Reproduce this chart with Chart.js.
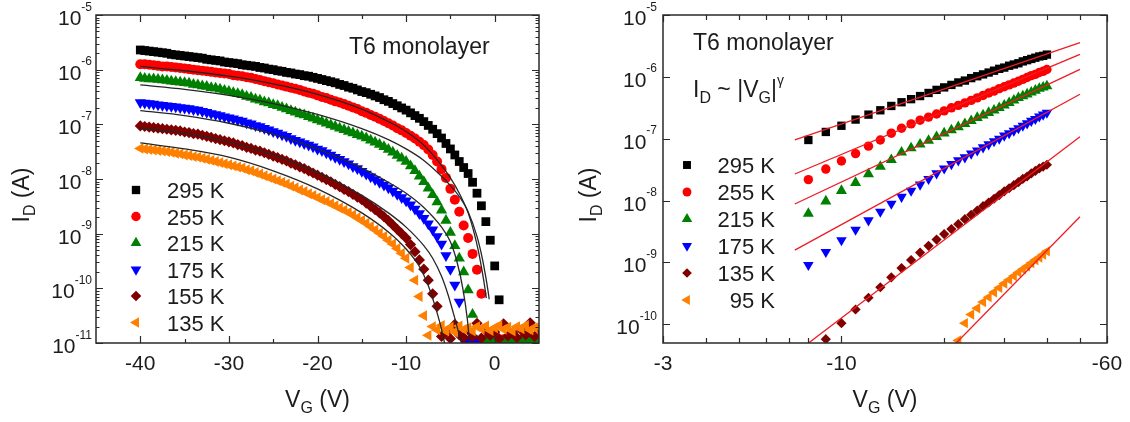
<!DOCTYPE html>
<html>
<head>
<meta charset="utf-8">
<script src="https://cdn.jsdelivr.net/npm/chart.js@4.4.1/dist/chart.umd.min.js"></script>
<style>
  html, body { margin: 0; padding: 0; background: #ffffff; }
  #wrap { position: relative; width: 1130px; height: 422px; overflow: hidden; }
  canvas { position: absolute; top: 0; }
  #left { left: 0; }
  #right { left: 560px; }
</style>
</head>
<body>
<div id="wrap">
  <canvas id="left" width="560" height="422" style="width:560px;height:422px"></canvas>
  <canvas id="right" width="570" height="422" style="width:570px;height:422px"></canvas>
</div>
<script>
// ---------------- LEFT PANEL DATA: I_D vs V_G (log10 of I_D in A), V_G step 0.5 V ----------------
const leftVG = [
  -40,-39.5,-39,-38.5,-38,-37.5,-37,-36.5,-36,-35.5,
  -35,-34.5,-34,-33.5,-33,-32.5,-32,-31.5,-31,-30.5,
  -30,-29.5,-29,-28.5,-28,-27.5,-27,-26.5,-26,-25.5,
  -25,-24.5,-24,-23.5,-23,-22.5,-22,-21.5,-21,-20.5,
  -20,-19.5,-19,-18.5,-18,-17.5,-17,-16.5,-16,-15.5,
  -15,-14.5,-14,-13.5,-13,-12.5,-12,-11.5,-11,-10.5,
  -10,-9.5,-9,-8.5,-8,-7.5,-7,-6.5,-6,-5.5,-5,-4.5,-4,-3.5,-3,-2.5,-2,-1.5,-1,-0.5,0,0.5,1,1.5,2,2.5,3,3.5,4,4.5,5];

const leftLog295K = [
  -5.64,-5.65,-5.66,-5.67,-5.68,-5.69,-5.70,-5.72,-5.73,-5.74,
  -5.75,-5.76,-5.77,-5.78,-5.79,-5.81,-5.82,-5.83,-5.84,-5.86,
  -5.87,-5.88,-5.89,-5.91,-5.92,-5.93,-5.94,-5.96,-5.97,-5.99,
  -6.00,-6.02,-6.03,-6.05,-6.06,-6.08,-6.09,-6.11,-6.12,-6.14,
  -6.16,-6.18,-6.20,-6.22,-6.24,-6.27,-6.29,-6.32,-6.34,-6.37,
  -6.40,-6.42,-6.45,-6.48,-6.51,-6.55,-6.58,-6.62,-6.66,-6.70,
  -6.74,-6.79,-6.84,-6.89,-6.95,-7.02,-7.09,-7.17,-7.25,-7.35,-7.45,-7.56,-7.68,-7.79,-7.90,-8.06,-8.26,-8.49,-8.78,-9.12,-9.59,-10.21,
  null,null,null,null,null,null,null,null,null];

const leftLog255K = [
  -5.90,-5.90,-5.91,-5.92,-5.93,-5.94,-5.94,-5.95,-5.96,-5.97,
  -5.98,-5.99,-6.00,-6.01,-6.02,-6.03,-6.04,-6.05,-6.06,-6.07,
  -6.08,-6.10,-6.11,-6.12,-6.14,-6.15,-6.17,-6.19,-6.21,-6.23,
  -6.25,-6.27,-6.29,-6.31,-6.33,-6.35,-6.37,-6.40,-6.42,-6.44,
  -6.47,-6.50,-6.52,-6.55,-6.58,-6.60,-6.63,-6.66,-6.69,-6.72,
  -6.76,-6.79,-6.83,-6.86,-6.90,-6.94,-6.98,-7.02,-7.07,-7.11,
  -7.16,-7.21,-7.26,-7.32,-7.38,-7.46,-7.56,-7.68,-7.82,-7.98,-8.18,-8.38,-8.60,-8.85,-9.08,-9.37,-9.66,-10.10,
  -10.93,-10.96,-10.91,-10.95,-10.93,-10.97,-10.92,-10.95,-10.94,-10.97,-10.92,-10.95,-10.93];

const leftLog215K = [
  -6.15,-6.16,-6.17,-6.17,-6.18,-6.19,-6.20,-6.21,-6.22,-6.23,
  -6.24,-6.25,-6.27,-6.28,-6.30,-6.31,-6.33,-6.34,-6.36,-6.38,
  -6.40,-6.42,-6.44,-6.46,-6.49,-6.51,-6.54,-6.56,-6.59,-6.61,
  -6.64,-6.66,-6.69,-6.72,-6.75,-6.78,-6.81,-6.83,-6.86,-6.89,
  -6.92,-6.95,-6.98,-7.01,-7.04,-7.07,-7.10,-7.13,-7.16,-7.19,
  -7.22,-7.25,-7.29,-7.33,-7.37,-7.41,-7.46,-7.51,-7.57,-7.62,
  -7.68,-7.76,-7.85,-7.95,-8.05,-8.17,-8.29,-8.42,-8.57,-8.76,-8.98,-9.22,-9.45,-9.70,-10.03,-10.48,
  -10.96,-10.94,-10.97,-10.95,-10.93,-10.96,-10.98,-10.94,-10.96,-10.95,-10.97,-10.93,-10.96,-10.94,-10.97];

const leftLog175K = [
  -6.60,-6.61,-6.62,-6.63,-6.64,-6.65,-6.66,-6.67,-6.68,-6.69,
  -6.70,-6.71,-6.73,-6.74,-6.76,-6.78,-6.80,-6.82,-6.84,-6.86,
  -6.88,-6.90,-6.92,-6.94,-6.97,-6.99,-7.02,-7.04,-7.07,-7.10,
  -7.13,-7.16,-7.19,-7.22,-7.26,-7.29,-7.32,-7.35,-7.38,-7.41,
  -7.45,-7.48,-7.52,-7.56,-7.60,-7.64,-7.68,-7.72,-7.77,-7.81,
  -7.86,-7.91,-7.96,-8.01,-8.06,-8.11,-8.16,-8.22,-8.28,-8.34,
  -8.40,-8.47,-8.55,-8.63,-8.72,-8.82,-8.93,-9.05,-9.19,-9.40,-9.65,-9.94,-10.25,
  -10.96,-10.98,-10.97,-10.99,null,null,null,null,null,null,null,null,null,null,null,null,null,null];

const leftLog155K = [
  -7.03,-7.04,-7.05,-7.06,-7.07,-7.08,-7.09,-7.10,-7.11,-7.12,
  -7.14,-7.15,-7.17,-7.18,-7.20,-7.22,-7.24,-7.26,-7.28,-7.30,
  -7.32,-7.34,-7.37,-7.39,-7.42,-7.44,-7.47,-7.49,-7.52,-7.55,
  -7.58,-7.61,-7.64,-7.67,-7.71,-7.74,-7.78,-7.81,-7.85,-7.89,
  -7.93,-7.97,-8.01,-8.05,-8.10,-8.14,-8.19,-8.23,-8.28,-8.33,
  -8.38,-8.44,-8.50,-8.56,-8.62,-8.69,-8.76,-8.84,-8.92,-9.00,
  -9.08,-9.20,-9.33,-9.48,-9.65,-9.85,-10.10,-10.33,
  -10.88,-10.80,-10.92,-10.66,-10.85,-10.90,-10.76,-10.88,-10.64,-10.91,-10.77,-10.86,-10.80,-10.92,-10.65,-10.87,-10.81,-10.90,-10.76,-10.85,-10.63,-10.88,-10.75];

const leftLog135K = [
  -7.44,-7.45,-7.46,-7.47,-7.48,-7.49,-7.50,-7.51,-7.53,-7.54,
  -7.56,-7.57,-7.59,-7.60,-7.62,-7.64,-7.66,-7.68,-7.70,-7.72,
  -7.74,-7.76,-7.78,-7.80,-7.83,-7.85,-7.88,-7.91,-7.94,-7.97,
  -8.00,-8.03,-8.06,-8.09,-8.13,-8.16,-8.20,-8.23,-8.27,-8.30,
  -8.34,-8.38,-8.41,-8.45,-8.49,-8.53,-8.57,-8.61,-8.66,-8.71,
  -8.76,-8.81,-8.87,-8.93,-8.99,-9.05,-9.12,-9.19,-9.27,-9.36,
  -9.45,-9.62,-9.85,-10.15,-10.50,-10.86,
  -10.70,-10.76,-10.68,-10.78,-10.71,-10.80,-10.69,-10.75,-10.72,-10.78,-10.70,-10.74,-10.69,-10.77,-10.72,-10.68,-10.75,-10.71,-10.78,-10.70,-10.74,-10.68,-10.76,-10.72,-10.70];

// fitted curves (black lines), V_G and log10(I_D)
const fitA_VG  = [-40,-35,-30,-25,-20,-15,-12,-10,-8,-6,-5,-4,-3,-2.3,-1.8,-1.4,-1.1,-0.95];
const fitA_log = [-5.94,-6.02,-6.12,-6.26,-6.45,-6.72,-6.95,-7.13,-7.38,-7.75,-7.98,-8.26,-8.62,-9.0,-9.35,-9.7,-10.0,-10.18];
const fitB_VG  = [-40,-35,-30,-25,-20,-15,-12,-10,-8,-6,-5,-4,-3,-2,-1.4,-1,-0.75,-0.62];
const fitB_log = [-6.28,-6.36,-6.47,-6.62,-6.82,-7.08,-7.28,-7.45,-7.66,-7.95,-8.12,-8.32,-8.60,-9.05,-9.45,-9.8,-10.05,-10.2];
const fitC_VG  = [-40,-35,-30,-25,-20,-15,-12,-10,-8,-6,-5,-4.2,-3.6,-3.1,-2.8];
const fitC_log = [-6.75,-6.84,-6.98,-7.18,-7.45,-7.80,-8.06,-8.26,-8.52,-8.88,-9.15,-9.55,-10.0,-10.55,-11.05];
const fitD_VG  = [-40,-35,-30,-25,-20,-15,-12,-10,-8,-7,-6,-5.3,-4.5,-4,-3.6];
const fitD_log = [-7.07,-7.16,-7.32,-7.56,-7.88,-8.30,-8.62,-8.88,-9.22,-9.45,-9.78,-10.1,-10.55,-10.85,-11.05];
const fitE_VG  = [-40,-35,-30,-25,-20,-15,-12,-10,-8.5,-7.5,-6.5,-6,-5.6];
const fitE_log = [-7.34,-7.45,-7.60,-7.85,-8.18,-8.62,-8.97,-9.28,-9.6,-9.95,-10.45,-10.75,-11.05];

const leftXTicks = [-40, -30, -20, -10, 0];
const leftXTickLabels = ['-40', '-30', '-20', '-10', '0'];
const leftXMinor = [-35, -25, -15, -5];
const leftYExponents = [-11, -10, -9, -8, -7, -6, -5];

// ---------------- RIGHT PANEL DATA: I_D vs |V_G| (log-log) ----------------
const rightAbsVG = [8,9,10,11,12,13,14,15,16,17,18,19,20,21,22,23,24,25,26,27,28,29,30,31,32,33,34,35,36,37,38,39,40];
const rightLog295K = [-7.02,-6.89,-6.79,-6.69,-6.61,-6.54,-6.47,-6.41,-6.36,-6.31,-6.26,-6.21,-6.17,-6.13,-6.09,-6.06,-6.02,-5.99,-5.96,-5.93,-5.90,-5.87,-5.85,-5.82,-5.80,-5.78,-5.75,-5.73,-5.71,-5.69,-5.67,-5.66,-5.64];
const rightLog255K = [-7.66,-7.49,-7.36,-7.24,-7.12,-7.02,-6.91,-6.83,-6.76,-6.70,-6.65,-6.60,-6.55,-6.50,-6.46,-6.42,-6.38,-6.34,-6.30,-6.26,-6.23,-6.19,-6.16,-6.13,-6.10,-6.07,-6.04,-6.01,-5.98,-5.96,-5.93,-5.91,-5.88];
const rightLog215K = [-8.21,-8.01,-7.84,-7.71,-7.57,-7.45,-7.34,-7.22,-7.15,-7.09,-7.03,-6.97,-6.91,-6.86,-6.81,-6.76,-6.71,-6.66,-6.62,-6.58,-6.54,-6.50,-6.46,-6.42,-6.38,-6.34,-6.31,-6.28,-6.25,-6.22,-6.19,-6.17,-6.15];
const rightLog175K = [-9.04,-8.83,-8.64,-8.47,-8.32,-8.18,-8.05,-7.94,-7.84,-7.74,-7.65,-7.56,-7.48,-7.41,-7.35,-7.30,-7.24,-7.19,-7.14,-7.09,-7.04,-7.00,-6.95,-6.91,-6.87,-6.83,-6.79,-6.75,-6.71,-6.68,-6.64,-6.61,-6.58];
const rightLog135K = [null,-10.24,-9.98,-9.76,-9.57,-9.40,-9.24,-9.09,-8.96,-8.84,-8.73,-8.63,-8.54,-8.46,-8.38,-8.30,-8.23,-8.16,-8.09,-8.03,-7.97,-7.91,-7.85,-7.80,-7.75,-7.70,-7.65,-7.61,-7.56,-7.52,-7.48,-7.45,-7.42];
const rightLog95K  = [null,null,null,null,null,null,null,null,null,null,null,null,null,null,-10.26,-9.98,-9.84,-9.74,-9.64,-9.56,-9.48,-9.41,-9.34,-9.28,-9.22,-9.16,-9.11,-9.06,-9.01,-8.96,-8.92,-8.87,-8.82];

// power-law fits (red lines): |V_G| end points and log10(I_D)
const powFitAbsVG = [7.3, 50];
const powFit295K = [-7.02, -5.446];
const powFit255K = [-7.57, -5.635];
const powFit215K = [-8.055, -5.878];
const powFit175K = [-8.80, -6.28];
const powFit135K = [-10.47, -6.967];
const powFit95K_AbsVG = [20, 50];
const powFit95K = [-10.5, -8.26];

const rightXTicks = [3, 10, 60];
const rightXTickLabels = ['-3', '-10', '-60'];
const rightXMinor = [4, 5, 6, 7, 8, 9, 20, 30, 40, 50];
const rightYExponents = [-10, -9, -8, -7, -6, -5];

// ---------------- helpers ----------------
const FONT = '"Liberation Sans", Arial, Helvetica, sans-serif';
const INK = '#1c1c1c';

function toPoints(xs, logs) {
  const out = [];
  xs.forEach((x, i) => {
    const l = logs[i];
    if (l !== null && l !== undefined) out.push({ x: x, y: Math.pow(10, l) });
  });
  return out;
}

function drawMarker(ctx, style, rot, r, x, y) {
  ctx.beginPath();
  const rad = rot * Math.PI / 180;
  if (style === 'rect') {
    const s = Math.SQRT1_2 * r;
    ctx.rect(x - s, y - s, 2 * s, 2 * s);
  } else if (style === 'circle') {
    ctx.arc(x, y, r, 0, Math.PI * 2);
  } else if (style === 'triangle') {
    let a = rad;
    ctx.moveTo(x + Math.sin(a) * r, y - Math.cos(a) * r);
    a += 2 * Math.PI / 3;
    ctx.lineTo(x + Math.sin(a) * r, y - Math.cos(a) * r);
    a += 2 * Math.PI / 3;
    ctx.lineTo(x + Math.sin(a) * r, y - Math.cos(a) * r);
    ctx.closePath();
  } else if (style === 'rectRot') {
    ctx.moveTo(x, y - r); ctx.lineTo(x + r, y); ctx.lineTo(x, y + r); ctx.lineTo(x - r, y);
    ctx.closePath();
  }
  ctx.fill();
}

function textRun(ctx, parts, x, y) {
  let cx = x;
  parts.forEach(p => {
    ctx.font = p[1] + 'px ' + FONT;
    ctx.fillText(p[0], cx, y + p[2]);
    cx += ctx.measureText(p[0]).width;
  });
  return cx;
}
function runWidth(ctx, parts) {
  let w = 0;
  parts.forEach(p => { ctx.font = p[1] + 'px ' + FONT; w += ctx.measureText(p[0]).width; });
  return w;
}

function panelPlugin(spec) {
  return {
    id: 'panel_' + spec.name,
    afterDraw(chart) {
      const ctx = chart.ctx, a = chart.chartArea;
      const xs = chart.scales.x, ys = chart.scales.y;
      ctx.save();
      ctx.strokeStyle = '#2a2a2a';
      ctx.lineWidth = 1.5;
      ctx.strokeRect(a.left, a.top, a.right - a.left, a.bottom - a.top);
      ctx.lineWidth = 1.2;
      ctx.beginPath();
      const tickX = (v, len) => {
        const p = Math.round(xs.getPixelForValue(v)) + 0.5;
        ctx.moveTo(p, a.bottom); ctx.lineTo(p, a.bottom - len);
        ctx.moveTo(p, a.top); ctx.lineTo(p, a.top + len);
      };
      const tickY = (v, len) => {
        const p = Math.round(ys.getPixelForValue(v)) + 0.5;
        ctx.moveTo(a.left, p); ctx.lineTo(a.left + len, p);
        ctx.moveTo(a.right, p); ctx.lineTo(a.right - len, p);
      };
      spec.xTicks.forEach(v => tickX(v, 7));
      spec.xMinor.forEach(v => tickX(v, spec.xMinorLen));
      spec.yExp.forEach(e => tickY(Math.pow(10, e), 7));
      if (spec.yMinor) {
        spec.yExp.forEach(e => {
          for (let m = 2; m <= 9; m++) {
            const v = m * Math.pow(10, e);
            if (v < ys.max) tickY(v, 3.5);
          }
        });
      }
      ctx.stroke();

      ctx.fillStyle = INK;
      ctx.textBaseline = 'alphabetic';
      ctx.textAlign = 'center';
      ctx.font = '21px ' + FONT;
      spec.xTicks.forEach((v, i) => ctx.fillText(spec.xLabels[i], xs.getPixelForValue(v), a.bottom + 27));
      ctx.textAlign = 'left';
      spec.yExp.forEach(e => {
        const y = ys.getPixelForValue(Math.pow(10, e));
        const parts = [['10', 21, 10], [String(e), 12, -4.5]];
        const w = runWidth(ctx, parts);
        textRun(ctx, parts, a.left - spec.yLabelGap - w, y);
      });
      const xt = [['V', 23, 0], ['G', 16, 6], [' (V)', 23, 0]];
      const xw = runWidth(ctx, xt);
      textRun(ctx, xt, (a.left + a.right) / 2 - xw / 2, 407);
      const yt = [['I', 23, 0], ['D', 16, 6], [' (A)', 23, 0]];
      const yw = runWidth(ctx, yt);
      ctx.save();
      ctx.translate(spec.yTitleX, 195);
      ctx.rotate(-Math.PI / 2);
      textRun(ctx, yt, -yw / 2, 0);
      ctx.restore();
      spec.notes.forEach(n => textRun(ctx, n.parts, n.x, n.y));
      const L = spec.legend;
      spec.series.forEach((s, i) => {
        const y = L.y0 + i * L.dy;
        ctx.fillStyle = s.color;
        drawMarker(ctx, s.style, s.rot, s.r * L.scale, L.markerX, y);
        ctx.fillStyle = INK;
        ctx.font = '22px ' + FONT;
        ctx.textAlign = L.align;
        ctx.fillText(s.label, L.textX, y + 8);
      });
      ctx.restore();
    }
  };
}

function buildDatasets(xs, series, fits, fitColor) {
  const ds = [];
  fits.forEach(f => ds.push({
    data: toPoints(f.x, f.logs),
    showLine: true, pointRadius: 0, borderColor: fitColor, borderWidth: 1.3,
    fill: false, cubicInterpolationMode: 'monotone', order: 0, clip: 0
  }));
  series.forEach((s, i) => ds.push({
    label: s.label,
    data: toPoints(xs, s.logs),
    showLine: false,
    pointStyle: s.style, pointRotation: s.rot, pointRadius: s.r,
    pointBackgroundColor: s.color, backgroundColor: s.color,
    pointBorderWidth: 0, borderWidth: 0,
    order: series.length - i, clip: 0
  }));
  return ds;
}

// ---------------- LEFT CHART ----------------
const leftSeries = [
  { label: '295 K', logs: leftLog295K, color: '#000000', style: 'rect',     rot: 0,   r: 6.2 },
  { label: '255 K', logs: leftLog255K, color: '#ff0000', style: 'circle',   rot: 0,   r: 5.0 },
  { label: '215 K', logs: leftLog215K, color: '#008000', style: 'triangle', rot: 0,   r: 6.5 },
  { label: '175 K', logs: leftLog175K, color: '#0000ff', style: 'triangle', rot: 180, r: 6.5 },
  { label: '155 K', logs: leftLog155K, color: '#800000', style: 'rectRot',  rot: 0,   r: 5.6 },
  { label: '135 K', logs: leftLog135K, color: '#ff8000', style: 'triangle', rot: 270, r: 6.3 }
];
const leftFits = [
  { x: fitA_VG, logs: fitA_log }, { x: fitB_VG, logs: fitB_log }, { x: fitC_VG, logs: fitC_log },
  { x: fitD_VG, logs: fitD_log }, { x: fitE_VG, logs: fitE_log }
];

new Chart(document.getElementById('left'), {
  type: 'scatter',
  data: { datasets: buildDatasets(leftVG, leftSeries, leftFits, '#262626') },
  options: {
    responsive: false, animation: false, devicePixelRatio: 1, events: [],
    layout: { padding: { left: 96, top: 15, right: 21, bottom: 79 } },
    plugins: { legend: { display: false }, tooltip: { enabled: false } },
    scales: {
      x: { type: 'linear', min: -45, max: 5, display: false },
      y: { type: 'logarithmic', min: 1e-11, max: 1e-5, display: false }
    }
  },
  plugins: [panelPlugin({
    name: 'left', xTicks: leftXTicks, xLabels: leftXTickLabels, xMinor: leftXMinor, xMinorLen: 4,
    yExp: leftYExponents, yMinor: true, yLabelGap: 4, yTitleX: 29,
    series: leftSeries,
    legend: { markerX: 136, textX: 167, align: 'left', y0: 190, dy: 26.5, scale: 0.95 },
    notes: [ { x: 349, y: 53.5, parts: [['T6 monolayer', 23, 0]] } ]
  })]
});

// ---------------- RIGHT CHART ----------------
const rightSeries = [
  { label: '295 K', logs: rightLog295K, color: '#000000', style: 'rect',     rot: 0,   r: 5.9 },
  { label: '255 K', logs: rightLog255K, color: '#ff0000', style: 'circle',   rot: 0,   r: 4.7 },
  { label: '215 K', logs: rightLog215K, color: '#008000', style: 'triangle', rot: 0,   r: 6.4 },
  { label: '175 K', logs: rightLog175K, color: '#0000ff', style: 'triangle', rot: 180, r: 6.1 },
  { label: '135 K', logs: rightLog135K, color: '#800000', style: 'rectRot',  rot: 0,   r: 5.1 },
  { label: '95 K',  logs: rightLog95K,  color: '#ff8000', style: 'triangle', rot: 270, r: 6.0 }
];
const rightFits = [
  { x: powFitAbsVG, logs: powFit295K }, { x: powFitAbsVG, logs: powFit255K },
  { x: powFitAbsVG, logs: powFit215K }, { x: powFitAbsVG, logs: powFit175K },
  { x: powFitAbsVG, logs: powFit135K }, { x: powFit95K_AbsVG, logs: powFit95K }
];

new Chart(document.getElementById('right'), {
  type: 'scatter',
  data: { datasets: buildDatasets(rightAbsVG, rightSeries, rightFits, '#ee1c25') },
  options: {
    responsive: false, animation: false, devicePixelRatio: 1, events: [],
    layout: { padding: { left: 103, top: 15, right: 23, bottom: 79 } },
    plugins: { legend: { display: false }, tooltip: { enabled: false } },
    scales: {
      x: { type: 'logarithmic', min: 3, max: 60, display: false },
      y: { type: 'logarithmic', min: 5e-11, max: 1e-5, display: false }
    }
  },
  plugins: [panelPlugin({
    name: 'right', xTicks: rightXTicks, xLabels: rightXTickLabels, xMinor: rightXMinor, xMinorLen: 5,
    yExp: rightYExponents, yMinor: false, yLabelGap: 6, yTitleX: 36,
    series: rightSeries,
    legend: { markerX: 127, textX: 215, align: 'right', y0: 165, dy: 27, scale: 0.95 },
    notes: [
      { x: 133, y: 50, parts: [['T6 monolayer', 23, 0]] },
      { x: 133, y: 97, parts: [['I', 23, 0], ['D', 16, 6], [' ~ |V', 23, 0], ['G', 16, 6], ['|', 23, 0], ['\u03B3', 14, -12]] }
    ]
  })]
});
</script>
</body>
</html>
